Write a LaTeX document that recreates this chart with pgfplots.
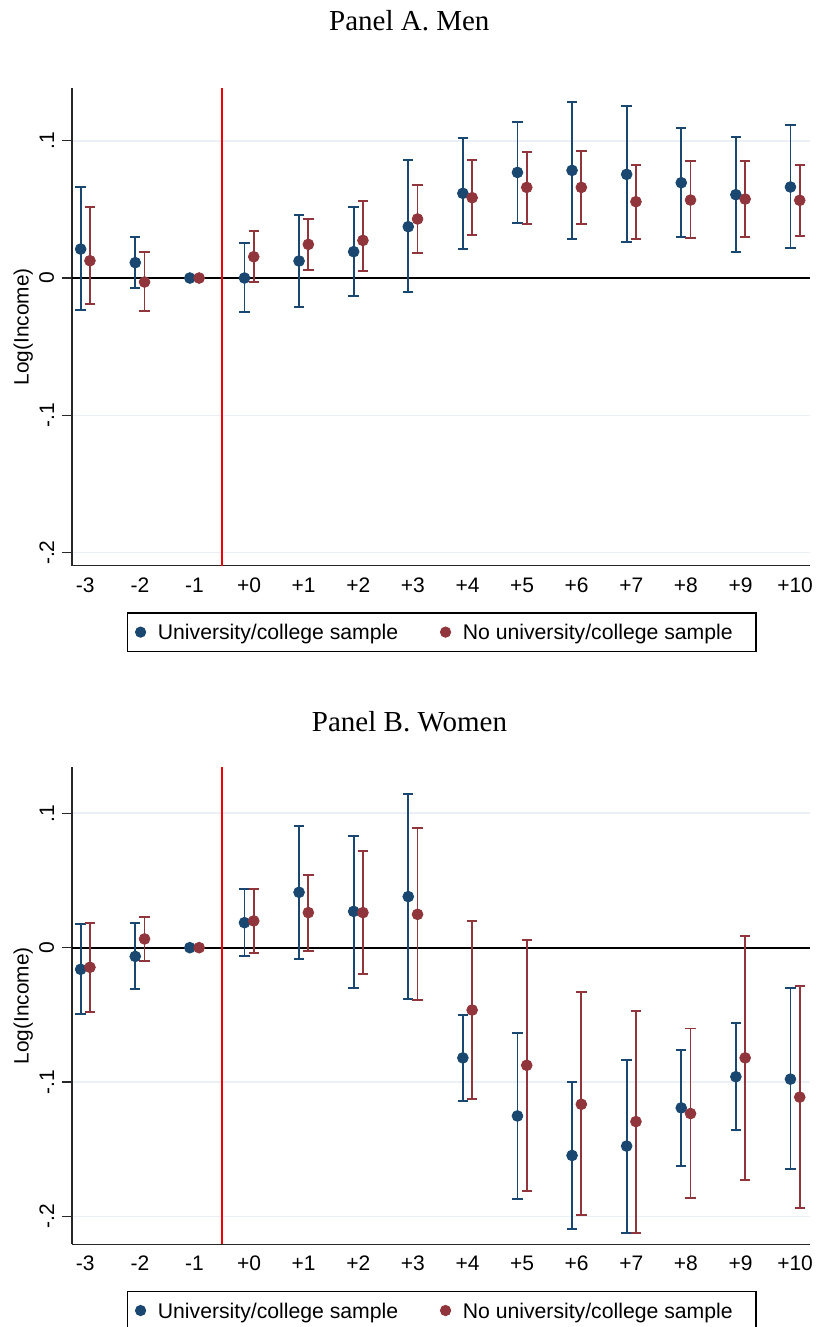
\documentclass[border=0pt]{standalone}
\usepackage{fontspec}
\setmainfont{Liberation Sans}
\newfontfamily\titlefont{Liberation Serif}
\usepackage{pgfplots}
\usepackage{pgfplotstable}
\pgfplotsset{compat=1.18}
\definecolor{stblue}{RGB}{26,71,111}
\definecolor{stred}{RGB}{144,53,59}
\definecolor{eventred}{RGB}{240,0,0}
\definecolor{gridc}{RGB}{234,240,245}
\definecolor{axc}{RGB}{40,40,40}

% Panel A (men): x = years relative to event, y = estimate, lo/hi = CI
\pgfplotstableread{
x y lo hi
-3 0.0211 -0.0235 0.0663
-2 0.0112 -0.0070 0.0296
0 0.0000 -0.0250 0.0255
1 0.0124 -0.0214 0.0461
2 0.0192 -0.0131 0.0517
3 0.0374 -0.0104 0.0859
4 0.0617 0.0209 0.1019
5 0.0769 0.0400 0.1136
6 0.0784 0.0286 0.1282
7 0.0755 0.0265 0.1252
8 0.0694 0.0301 0.1090
9 0.0607 0.0187 0.1027
10 0.0663 0.0218 0.1114
}\ablue
\pgfplotstableread{
x y lo hi
-3 0.0126 -0.0192 0.0515
-2 -0.0029 -0.0243 0.0187
0 0.0155 -0.0027 0.0340
1 0.0245 0.0061 0.0432
2 0.0274 0.0053 0.0561
3 0.0430 0.0184 0.0675
4 0.0585 0.0316 0.0857
5 0.0660 0.0396 0.0920
6 0.0660 0.0393 0.0925
7 0.0556 0.0286 0.0823
8 0.0568 0.0289 0.0852
9 0.0575 0.0299 0.0854
10 0.0566 0.0308 0.0820
}\ared
% Panel B (women)
\pgfplotstableread{
x y lo hi
-3 -0.0161 -0.0496 0.0176
-2 -0.0065 -0.0310 0.0186
0 0.0186 -0.0062 0.0437
1 0.0412 -0.0082 0.0906
2 0.0270 -0.0300 0.0834
3 0.0380 -0.0382 0.1144
4 -0.0820 -0.1142 -0.0499
5 -0.1252 -0.1868 -0.0636
6 -0.1546 -0.2092 -0.0998
7 -0.1476 -0.2120 -0.0835
8 -0.1192 -0.1626 -0.0758
9 -0.0960 -0.1354 -0.0561
10 -0.0978 -0.1648 -0.0300
}\bblue
\pgfplotstableread{
x y lo hi
-3 -0.0146 -0.0476 0.0184
-2 0.0065 -0.0099 0.0231
0 0.0199 -0.0037 0.0439
1 0.0261 -0.0022 0.0538
2 0.0261 -0.0194 0.0717
3 0.0248 -0.0387 0.0888
4 -0.0464 -0.1125 0.0199
5 -0.0875 -0.1810 0.0057
6 -0.1165 -0.1990 -0.0333
7 -0.1294 -0.2120 -0.0469
8 -0.1234 -0.1865 -0.0601
9 -0.0820 -0.1728 0.0089
10 -0.1112 -0.1935 -0.0283
}\bred

\pgfplotsset{
  panel/.style={
    scale only axis, width=369pt,
    xmin=-3.2436, xmax=10.273,
    axis lines*=left,
    axis line style={axc, line width=0.6pt},
    xtick={-3,-2,-1,0,1,2,3,4,5,6,7,8,9,10},
    xticklabels={-3,-2,-1,+0,+1,+2,+3,+4,+5,+6,+7,+8,+9,+10},
    ytick={-0.2,-0.1,0,0.1},
    yticklabels={-.2,-.1,0,.1},
    tick align=outside, major tick length=5pt,
    xtick style={draw=none},
    ytick style={axc, line width=0.6pt},
    ymajorgrids, grid style={gridc, line width=0.8pt},
    tick label style={font=\fontsize{10.5}{12}\selectfont, inner sep=0pt},
    yticklabel style={rotate=90, anchor=south},
    yticklabel shift=3.7pt,
    xticklabel shift=0.8pt,
    ylabel={Log(Income)},
    every axis y label/.style={at={(axis description cs:-0.0588,0.5)}, rotate=90, anchor=base, font=\fontsize{10.4}{12}\selectfont},
    legend columns=2,
    legend cell align=left,
    legend style={anchor=north west, draw=black, line width=0.6pt,
      inner xsep=4.15pt, inner ysep=0pt,
      font=\fontsize{10.6}{12}\selectfont,
      nodes={inner sep=0pt, text height=13.35pt, text depth=5.85pt},
      /tikz/every odd column/.append style={column sep=6.15pt},
      /tikz/every even column/.append style={column sep=21.15pt}},
  },
  dotblue/.style={only marks, mark=*, mark size=2.7pt, color=stblue, fill=stblue},
  dotred/.style={only marks, mark=*, mark size=2.7pt, color=stred, fill=stred},
  errs/.style={error bars/.cd, y dir=both, y explicit,
    error bar style={line width=0.95pt, #1},
    error mark=-,
    error mark options={rotate=90, line width=0.95pt, mark size=2.6pt, #1}},
}

\begin{document}
\begin{tikzpicture}
\useasboundingbox (0,0) rectangle (408pt,-663.5pt);

% ---------------- Panel A ----------------
\begin{axis}[panel, at={(36pt,-282.85pt)}, anchor=south west,
  height=238.85pt, ymin=-0.2095, ymax=0.1384,
  title={Panel A. Men},
  every axis title/.style={at={(axis description cs:0.457,1.1214)}, anchor=base, font=\titlefont\fontsize{14.5}{17}\selectfont},
  legend style={at={(axis description cs:0.0741,-0.0976)}}]
\addplot[draw=black, line width=1pt, forget plot] coordinates {(-3.2436,0) (10.273,0)};
\addplot[eventred, line width=0.9pt, mark=none, forget plot] coordinates {(-0.5,-0.2095) (-0.5,0.1384)};
\addplot[dotblue, forget plot, errs=stblue] table[x expr=\thisrow{x}-0.085, y=y, y error plus expr=\thisrow{hi}-\thisrow{y}, y error minus expr=\thisrow{y}-\thisrow{lo}] {\ablue};
\addplot[dotred, forget plot, errs=stred] table[x expr=\thisrow{x}+0.085, y=y, y error plus expr=\thisrow{hi}-\thisrow{y}, y error minus expr=\thisrow{y}-\thisrow{lo}] {\ared};
\addplot[dotblue, forget plot] coordinates {(-1.085,0)};
\addplot[dotred, forget plot] coordinates {(-0.915,0)};
\addlegendimage{only marks, legend image code/.code={\draw[mark=*, mark size=2.5pt, stblue, fill=stblue] plot coordinates {(0pt,0pt)};}}
\addlegendentry{University/college sample}
\addlegendimage{only marks, legend image code/.code={\draw[mark=*, mark size=2.5pt, stred, fill=stred] plot coordinates {(0pt,0pt)};}}
\addlegendentry{No university/college sample\kern7.5pt}
\end{axis}

% ---------------- Panel B ----------------
\begin{axis}[panel, at={(36pt,-622.15pt)}, anchor=south west,
  height=238.5pt, ymin=-0.2207, ymax=0.1342,
  title={Panel B. Women},
  every axis title/.style={at={(axis description cs:0.4573,1.0746)}, anchor=base, font=\titlefont\fontsize{14.5}{17}\selectfont},
  legend style={at={(axis description cs:0.0741,-0.0973)}}]
\addplot[draw=black, line width=1pt, forget plot] coordinates {(-3.2436,0) (10.273,0)};
\addplot[eventred, line width=0.9pt, mark=none, forget plot] coordinates {(-0.5,-0.2207) (-0.5,0.1342)};
\addplot[dotblue, forget plot, errs=stblue] table[x expr=\thisrow{x}-0.085, y=y, y error plus expr=\thisrow{hi}-\thisrow{y}, y error minus expr=\thisrow{y}-\thisrow{lo}] {\bblue};
\addplot[dotred, forget plot, errs=stred] table[x expr=\thisrow{x}+0.085, y=y, y error plus expr=\thisrow{hi}-\thisrow{y}, y error minus expr=\thisrow{y}-\thisrow{lo}] {\bred};
\addplot[dotblue, forget plot] coordinates {(-1.085,0)};
\addplot[dotred, forget plot] coordinates {(-0.915,0)};
\addlegendimage{only marks, legend image code/.code={\draw[mark=*, mark size=2.5pt, stblue, fill=stblue] plot coordinates {(0pt,0pt)};}}
\addlegendentry{University/college sample}
\addlegendimage{only marks, legend image code/.code={\draw[mark=*, mark size=2.5pt, stred, fill=stred] plot coordinates {(0pt,0pt)};}}
\addlegendentry{No university/college sample\kern7.5pt}
\end{axis}
\end{tikzpicture}
\end{document}
